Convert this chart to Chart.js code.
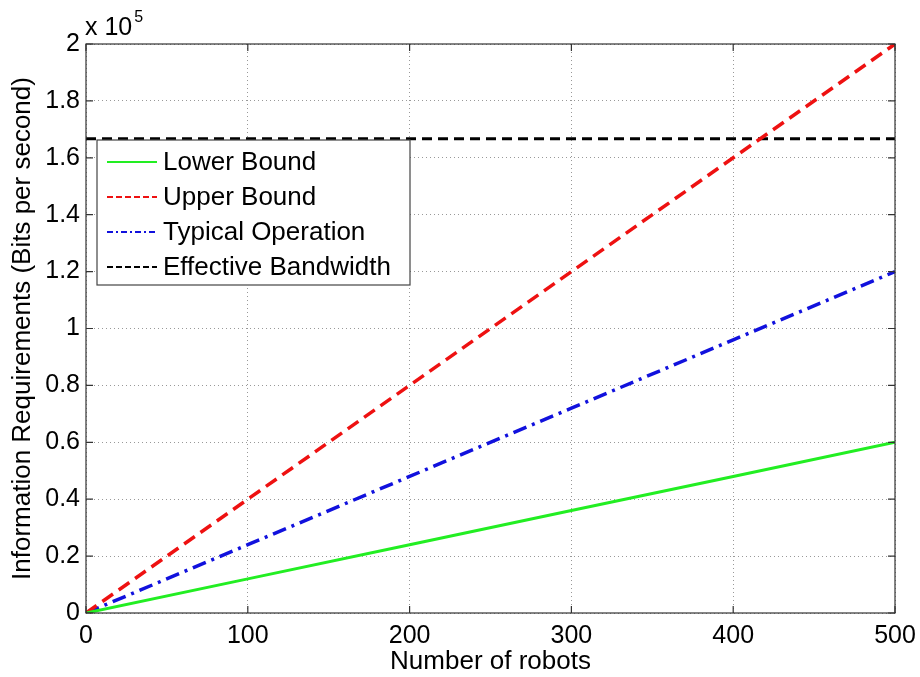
<!DOCTYPE html>
<html>
<head>
<meta charset="utf-8">
<script src="https://cdn.jsdelivr.net/npm/chart.js@4/dist/chart.umd.min.js"></script>
<style>
  html, body { margin: 0; padding: 0; background: #fff; }
  #wrap { width: 920px; height: 677px; position: relative; }
</style>
</head>
<body>
<div id="wrap"><canvas id="chart" width="920" height="677"></canvas></div>
<script>
// Chart data
const robots = [0, 100, 200, 300, 400, 500];
const lowerBound = [0, 12000, 24000, 36000, 48000, 60000];
const upperBound = [0, 40000, 80000, 120000, 160000, 200000];
const typicalOp = [0, 24000, 48000, 72000, 96000, 120000];
const bandwidth = [166700, 166700, 166700, 166700, 166700, 166700];
const xTicks = [0, 100, 200, 300, 400, 500];
const yTicks = [0, 0.2, 0.4, 0.6, 0.8, 1, 1.2, 1.4, 1.6, 1.8, 2];

const FONT = '"Liberation Sans", Arial, sans-serif';

function pts(ys) {
  return robots.map((x, i) => ({ x: x, y: ys[i] }));
}

// draws the box, inner tick marks, exponent label and legend like matlab
const matlabBits = {
  id: 'matlabBits',
  afterDraw(chart) {
    const ctx = chart.ctx;
    const a = chart.chartArea;
    const xs = chart.scales.x, ys = chart.scales.y;
    ctx.save();
    ctx.strokeStyle = '#333';
    ctx.lineWidth = 1.2;
    ctx.strokeRect(a.left, a.top, a.right - a.left, a.bottom - a.top);
    ctx.beginPath();
    xTicks.forEach(v => {
      const px = xs.getPixelForValue(v);
      ctx.moveTo(px, a.bottom); ctx.lineTo(px, a.bottom - 7);
      ctx.moveTo(px, a.top); ctx.lineTo(px, a.top + 7);
    });
    yTicks.forEach(v => {
      const py = ys.getPixelForValue(v * 1e5);
      ctx.moveTo(a.left, py); ctx.lineTo(a.left + 7, py);
      ctx.moveTo(a.right, py); ctx.lineTo(a.right - 7, py);
    });
    ctx.stroke();

    // exponent
    ctx.fillStyle = '#000';
    ctx.textBaseline = 'alphabetic';
    ctx.textAlign = 'left';
    ctx.font = '25px ' + FONT;
    ctx.fillText('x 10', a.left - 1, 35);
    const w = ctx.measureText('x 10').width;
    ctx.font = '16px ' + FONT;
    ctx.fillText('5', a.left + w + 1, 22);

    // legend
    const lx = 97, ly = 140, lw = 313, lh = 145;
    ctx.fillStyle = '#fff';
    ctx.fillRect(lx, ly, lw, lh);
    ctx.strokeStyle = '#444';
    ctx.lineWidth = 1.2;
    ctx.strokeRect(lx, ly, lw, lh);
    ctx.font = '26px ' + FONT;
    ctx.textBaseline = 'middle';
    chart.data.datasets.forEach((ds, i) => {
      const cy = ly + 22 + i * 35;
      ctx.beginPath();
      ctx.strokeStyle = ds.borderColor;
      ctx.lineWidth = 2;
      ctx.setLineDash(ds.legendDash || []);
      ctx.moveTo(lx + 10, cy);
      ctx.lineTo(lx + 60, cy);
      ctx.stroke();
      ctx.setLineDash([]);
      ctx.fillStyle = '#000';
      ctx.fillText(ds.label, lx + 66, cy + 1);
    });
    ctx.restore();
  }
};

new Chart(document.getElementById('chart'), {
  type: 'line',
  data: {
    datasets: [
      { label: 'Lower Bound', data: pts(lowerBound), borderColor: '#22ee22', borderWidth: 3 },
      { label: 'Upper Bound', data: pts(upperBound), borderColor: '#ee1111', borderWidth: 3.5, borderDash: [13, 7], legendDash: [6, 3] },
      { label: 'Typical Operation', data: pts(typicalOp), borderColor: '#1111dd', borderWidth: 3.5, borderDash: [14, 6, 3, 6], legendDash: [6, 3, 2, 3] },
      { label: 'Effective Bandwidth', data: pts(bandwidth), borderColor: '#000000', borderWidth: 3, borderDash: [10, 6], legendDash: [6, 3] }
    ]
  },
  options: {
    responsive: false,
    animation: false,
    devicePixelRatio: 1,
    elements: { point: { radius: 0 }, line: { tension: 0 } },
    layout: { padding: { left: 0, right: 25, top: 44, bottom: 0 } },
    plugins: { legend: { display: false }, tooltip: { enabled: false } },
    scales: {
      x: {
        type: 'linear',
        min: 0, max: 500,
        afterBuildTicks: s => { s.ticks = xTicks.map(v => ({ value: v })); },
        afterFit: s => { s.height = 64; s.paddingLeft = 0; s.paddingRight = 0; },
        grid: { color: '#999', lineWidth: 1, drawTicks: false },
        border: { display: false, dash: [1, 3] },
        ticks: { color: '#000', font: { family: FONT, size: 25 }, padding: 8, maxRotation: 0 },
        title: { display: true, text: 'Number of robots', color: '#000', font: { family: FONT, size: 26 }, padding: { top: 0, bottom: 0 } }
      },
      y: {
        min: 0, max: 200000,
        afterBuildTicks: s => { s.ticks = yTicks.map(v => ({ value: v * 1e5 })); },
        afterFit: s => { s.width = 86; s.paddingTop = 0; s.paddingBottom = 0; },
        grid: { color: '#999', lineWidth: 1, drawTicks: false },
        border: { display: false, dash: [1, 3] },
        ticks: { color: '#000', font: { family: FONT, size: 25 }, padding: 6,
                 callback: v => String(Math.round(v / 1e4) / 10) },
        title: { display: true, text: 'Information Requirements (Bits per second)', color: '#000', font: { family: FONT, size: 26 }, padding: { top: 7, bottom: 0 } }
      }
    }
  },
  plugins: [matlabBits]
});
</script>
</body>
</html>
